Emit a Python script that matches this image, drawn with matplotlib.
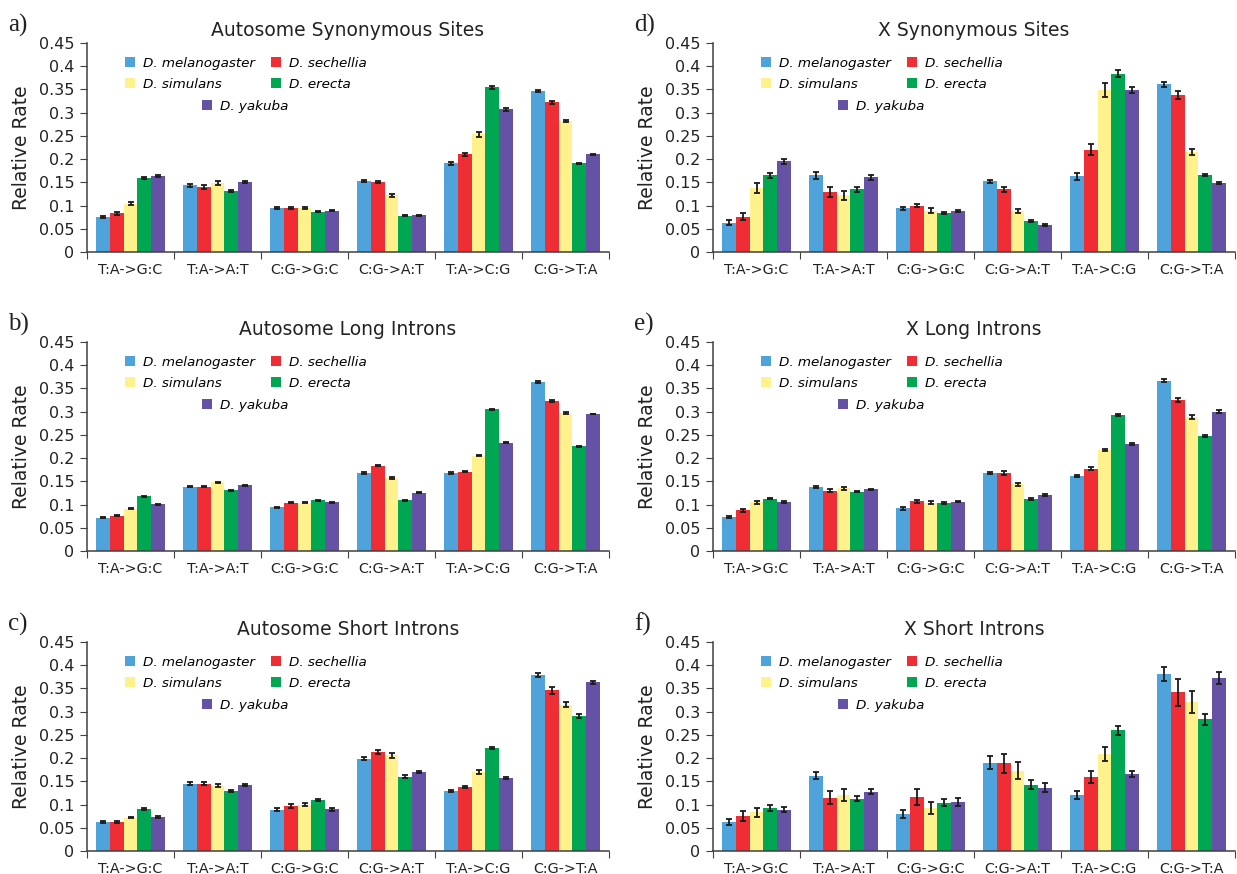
import numpy as np
import matplotlib
matplotlib.use("Agg")
import matplotlib.pyplot as plt
from matplotlib.patches import Patch

species = ["D. melanogaster", "D. sechellia", "D. simulans", "D. erecta", "D. yakuba"]
colors = ["#4da3da", "#ee2e34", "#fff28d", "#00a651", "#6652a4"]
categories = ["T:A->G:C", "T:A->A:T", "C:G->G:C", "C:G->A:T", "T:A->C:G", "C:G->T:A"]

# rows = species (same order as above), columns = categories
auto_syn = [
    [0.075, 0.144, 0.094, 0.152, 0.191, 0.346],
    [0.083, 0.140, 0.095, 0.150, 0.210, 0.322],
    [0.104, 0.148, 0.094, 0.122, 0.253, 0.282],
    [0.159, 0.131, 0.087, 0.078, 0.355, 0.191],
    [0.163, 0.150, 0.089, 0.079, 0.307, 0.210],
]
auto_syn_err = [
    [0.002, 0.003, 0.002, 0.002, 0.003, 0.002],
    [0.003, 0.004, 0.002, 0.002, 0.004, 0.003],
    [0.003, 0.004, 0.002, 0.003, 0.005, 0.003],
    [0.002, 0.002, 0.001, 0.001, 0.003, 0.001],
    [0.002, 0.002, 0.001, 0.001, 0.003, 0.001],
]
auto_long = [
    [0.072, 0.138, 0.094, 0.168, 0.168, 0.364],
    [0.076, 0.138, 0.104, 0.184, 0.171, 0.323],
    [0.091, 0.148, 0.104, 0.157, 0.205, 0.298],
    [0.118, 0.131, 0.109, 0.109, 0.305, 0.226],
    [0.101, 0.142, 0.105, 0.125, 0.233, 0.295],
]
auto_long_err = [
    [0.001, 0.001, 0.001, 0.0015, 0.0015, 0.0015],
    [0.001, 0.001, 0.001, 0.0015, 0.0015, 0.002],
    [0.0015, 0.0015, 0.001, 0.002, 0.0015, 0.002],
    [0.001, 0.001, 0.001, 0.001, 0.0015, 0.001],
    [0.001, 0.001, 0.001, 0.001, 0.001, 0.001],
]
auto_short = [
    [0.062, 0.1445, 0.089, 0.199, 0.130, 0.379],
    [0.062, 0.1445, 0.097, 0.213, 0.138, 0.346],
    [0.072, 0.141, 0.100, 0.206, 0.170, 0.315],
    [0.091, 0.129, 0.110, 0.160, 0.2225, 0.290],
    [0.074, 0.143, 0.090, 0.170, 0.158, 0.363],
]
auto_short_err = [
    [0.002, 0.003, 0.003, 0.004, 0.002, 0.005],
    [0.002, 0.003, 0.005, 0.005, 0.003, 0.007],
    [0.002, 0.003, 0.004, 0.005, 0.004, 0.006],
    [0.002, 0.002, 0.003, 0.003, 0.002, 0.004],
    [0.002, 0.002, 0.003, 0.003, 0.002, 0.004],
]
x_syn = [
    [0.063, 0.165, 0.094, 0.152, 0.163, 0.361],
    [0.076, 0.130, 0.100, 0.135, 0.220, 0.338],
    [0.137, 0.122, 0.089, 0.089, 0.349, 0.215],
    [0.165, 0.135, 0.0835, 0.066, 0.384, 0.165],
    [0.195, 0.161, 0.089, 0.058, 0.349, 0.148],
]
x_syn_err = [
    [0.005, 0.007, 0.003, 0.003, 0.008, 0.005],
    [0.008, 0.011, 0.004, 0.005, 0.012, 0.008],
    [0.011, 0.009, 0.005, 0.004, 0.015, 0.006],
    [0.005, 0.006, 0.002, 0.002, 0.008, 0.002],
    [0.005, 0.005, 0.002, 0.002, 0.007, 0.002],
]
x_long = [
    [0.073, 0.137, 0.092, 0.168, 0.162, 0.3665],
    [0.088, 0.130, 0.107, 0.168, 0.177, 0.325],
    [0.105, 0.135, 0.104, 0.144, 0.2175, 0.289],
    [0.113, 0.128, 0.104, 0.112, 0.293, 0.248],
    [0.105, 0.1325, 0.1065, 0.121, 0.230, 0.300],
]
x_long_err = [
    [0.002, 0.002, 0.003, 0.003, 0.002, 0.003],
    [0.003, 0.003, 0.003, 0.004, 0.003, 0.004],
    [0.003, 0.003, 0.003, 0.003, 0.003, 0.004],
    [0.002, 0.002, 0.002, 0.002, 0.003, 0.002],
    [0.002, 0.002, 0.002, 0.002, 0.002, 0.003],
]
x_short = [
    [0.062, 0.1625, 0.080, 0.1905, 0.121, 0.381],
    [0.075, 0.115, 0.116, 0.1885, 0.159, 0.342],
    [0.083, 0.121, 0.092, 0.173, 0.208, 0.321],
    [0.093, 0.113, 0.104, 0.143, 0.260, 0.284],
    [0.089, 0.128, 0.1055, 0.1365, 0.166, 0.372],
]
x_short_err = [
    [0.006, 0.007, 0.009, 0.013, 0.008, 0.016],
    [0.011, 0.014, 0.017, 0.020, 0.013, 0.029],
    [0.009, 0.013, 0.013, 0.018, 0.015, 0.023],
    [0.006, 0.006, 0.008, 0.010, 0.010, 0.012],
    [0.005, 0.006, 0.008, 0.009, 0.007, 0.013],
]

panels = [
    ("a)", "Autosome Synonymous Sites", auto_syn, auto_syn_err, 0, 0),
    ("b)", "Autosome Long Introns", auto_long, auto_long_err, 1, 0),
    ("c)", "Autosome Short Introns", auto_short, auto_short_err, 2, 0),
    ("d)", "X Synonymous Sites", x_syn, x_syn_err, 0, 1),
    ("e)", "X Long Introns", x_long, x_long_err, 1, 1),
    ("f)", "X Short Introns", x_short, x_short_err, 2, 1),
]

W, H = 1237, 874
fig = plt.figure(figsize=(W / 100, H / 100), dpi=100)

col_left = [87, 713]
row_bottom = [252, 551, 851]
ax_w, ax_h = 522, 209
bar_w = 0.157
spine_col = "#404040"
txt_col = "#222222"
yticks = [0, 0.05, 0.1, 0.15, 0.2, 0.25, 0.3, 0.35, 0.4, 0.45]
legend_shift = [0, 10]

for letter, title, vals, errs, r, c in panels:
    ax = fig.add_axes([col_left[c] / W, 1 - row_bottom[r] / H, ax_w / W, ax_h / H])
    x = np.arange(len(categories)) + 0.5
    for k in range(len(species)):
        ax.bar(x + (k - 2) * bar_w, vals[k], bar_w, color=colors[k],
               yerr=errs[k], capsize=2.5,
               error_kw=dict(ecolor="#1a1a1a", elinewidth=1.3, capthick=1.3))
    ax.set_xlim(0, 6)
    ax.set_ylim(0, 0.45)
    ax.set_yticks(yticks)
    ax.set_yticklabels([f"{v:g}" for v in yticks])
    ax.set_xticks(np.arange(7))
    ax.set_xticklabels([])
    ax.set_xticks(x, minor=True)
    ax.set_xticklabels(categories, minor=True)
    ax.tick_params(axis="x", which="major", length=5, direction="out", color=spine_col)
    ax.tick_params(axis="x", which="minor", length=0, pad=8, labelsize=10.3, labelcolor=txt_col)
    ax.tick_params(axis="y", length=5, direction="out", color=spine_col, pad=4,
                   labelsize=11.5, labelcolor=txt_col)
    for s in ["top", "right"]:
        ax.spines[s].set_visible(False)
    for s in ["left", "bottom"]:
        ax.spines[s].set_color(spine_col)
        ax.spines[s].set_linewidth(1.1)
    ax.set_title(title, fontsize=13.5, pad=5, color=txt_col)
    ax.set_ylabel("Relative Rate", fontsize=13.5, color=txt_col)
    ax.yaxis.set_label_coords(-56 / ax_w, 0.5)

    # legend: 2x2 block plus D. yakuba centred underneath
    handles = [Patch(facecolor=colors[i], edgecolor="none") for i in range(5)]
    order = [0, 2, 1, 3]
    prop = dict(style="italic", size=9.7)
    sh = legend_shift[c]
    leg1 = ax.legend([handles[i] for i in order], [species[i] for i in order],
                     ncol=2, loc="upper left",
                     bbox_to_anchor=((38 + sh) / ax_w, 1 - 14 / ax_h),
                     frameon=False, prop=prop, handlelength=0.75, handleheight=0.75,
                     handletextpad=0.6, columnspacing=1.2, labelspacing=0.6,
                     borderpad=0, borderaxespad=0)
    ax.add_artist(leg1)
    ax.legend([handles[4]], [species[4]], loc="upper left",
              bbox_to_anchor=((115 + sh) / ax_w, 1 - 57 / ax_h),
              frameon=False, prop=prop, handlelength=0.75, handleheight=0.75,
              handletextpad=0.6, borderpad=0, borderaxespad=0)

    fig.text((col_left[c] - 79) / W, 1 - (row_bottom[r] - ax_h - 18) / H, letter,
             fontsize=18, family="Liberation Serif", va="center", ha="left", color=txt_col)

fig.savefig("out.png", dpi=100)
